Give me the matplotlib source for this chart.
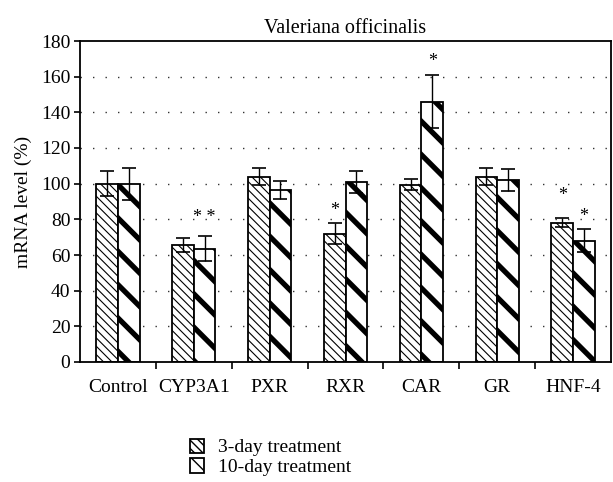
import matplotlib
matplotlib.use('Agg')
import matplotlib.pyplot as plt
import numpy as np

plt.rcParams['font.family'] = ['Liberation Serif', 'DejaVu Serif']

genes = ['Control', 'CYP3A1', 'PXR', 'RXR', 'CAR', 'GR', 'HNF-4']
day3 = [100, 65.5, 104, 72, 99.5, 104, 78]
day3_err = [7, 4, 5, 6, 3, 5, 2.5]
day10 = [100, 63.5, 96.5, 101, 146, 102, 68]
day10_err = [9, 7, 5, 6, 15, 6, 6.5]
# significance marks: (group, series, text, y)
stars = [(1, 1, '* *', 76), (3, 0, '*', 80), (4, 1, '*', 164), (6, 0, '*', 88.5), (6, 1, '*', 77)]

fig = plt.figure(figsize=(6.13, 4.82), dpi=100)
ax = fig.add_axes([80/613, 120/482, 531/613, 321/482])

x = np.arange(len(genes))
w = 0.285
b1 = ax.bar(x - w/2, day3, w, color='white', edgecolor='black', linewidth=1.3,
            hatch='\\\\\\\\', label='3-day treatment', zorder=2)
b2 = ax.bar(x + w/2, day10, w, color='white', edgecolor='black', linewidth=1.3,
            hatch='\\', label='10-day treatment', zorder=2)
for p in b1:
    try:
        p.set_hatch_linewidth(0.8)
    except AttributeError:
        pass
for p in b2:
    try:
        p.set_hatch_linewidth(3.8)
    except AttributeError:
        pass
ax.errorbar(x - w/2, day3, yerr=day3_err, fmt='none', ecolor='black', elinewidth=1,
            capsize=5, capthick=1.2, zorder=3)
ax.errorbar(x + w/2, day10, yerr=day10_err, fmt='none', ecolor='black', elinewidth=1,
            capsize=5, capthick=1.2, zorder=3)

for g, s, txt, yv in stars:
    xs = x[g] - w/2 if s == 0 else x[g] + w/2
    ax.text(xs, yv, txt, ha='center', va='bottom', fontsize=13)

ax.set_xlim(-0.5, len(genes) - 0.5)
ax.set_ylim(0, 180)
ax.set_yticks(np.arange(0, 181, 20))
ax.set_xticks(x)
ax.set_xticklabels(genes)
ax.set_xticks(np.arange(0.5, len(genes) - 0.5, 1), minor=True)
ax.tick_params(axis='x', which='major', length=0, pad=12, labelsize=14)
ax.tick_params(axis='x', which='minor', length=5, width=1.2, direction='out')
ax.tick_params(axis='y', length=4, width=1.2, labelsize=14, pad=3)
for yv in range(20, 180, 20):
    ax.axhline(yv, color='#333333', linestyle=(0, (1, 8)), linewidth=1, zorder=1)
for sp in ax.spines.values():
    sp.set_linewidth(1.3)

ax.set_ylabel('mRNA level (%)', fontsize=14, labelpad=6)
ax.set_title('Valeriana officinalis', fontsize=14.5, pad=6)

fig.legend(handles=[b1, b2], loc='upper left', bbox_to_anchor=(172/613, 1 - 421/482),
           frameon=False, fontsize=14, handlelength=0.75, handleheight=0.75,
           handletextpad=0.7, labelspacing=0.1)

plt.savefig('out.png', dpi=100)
